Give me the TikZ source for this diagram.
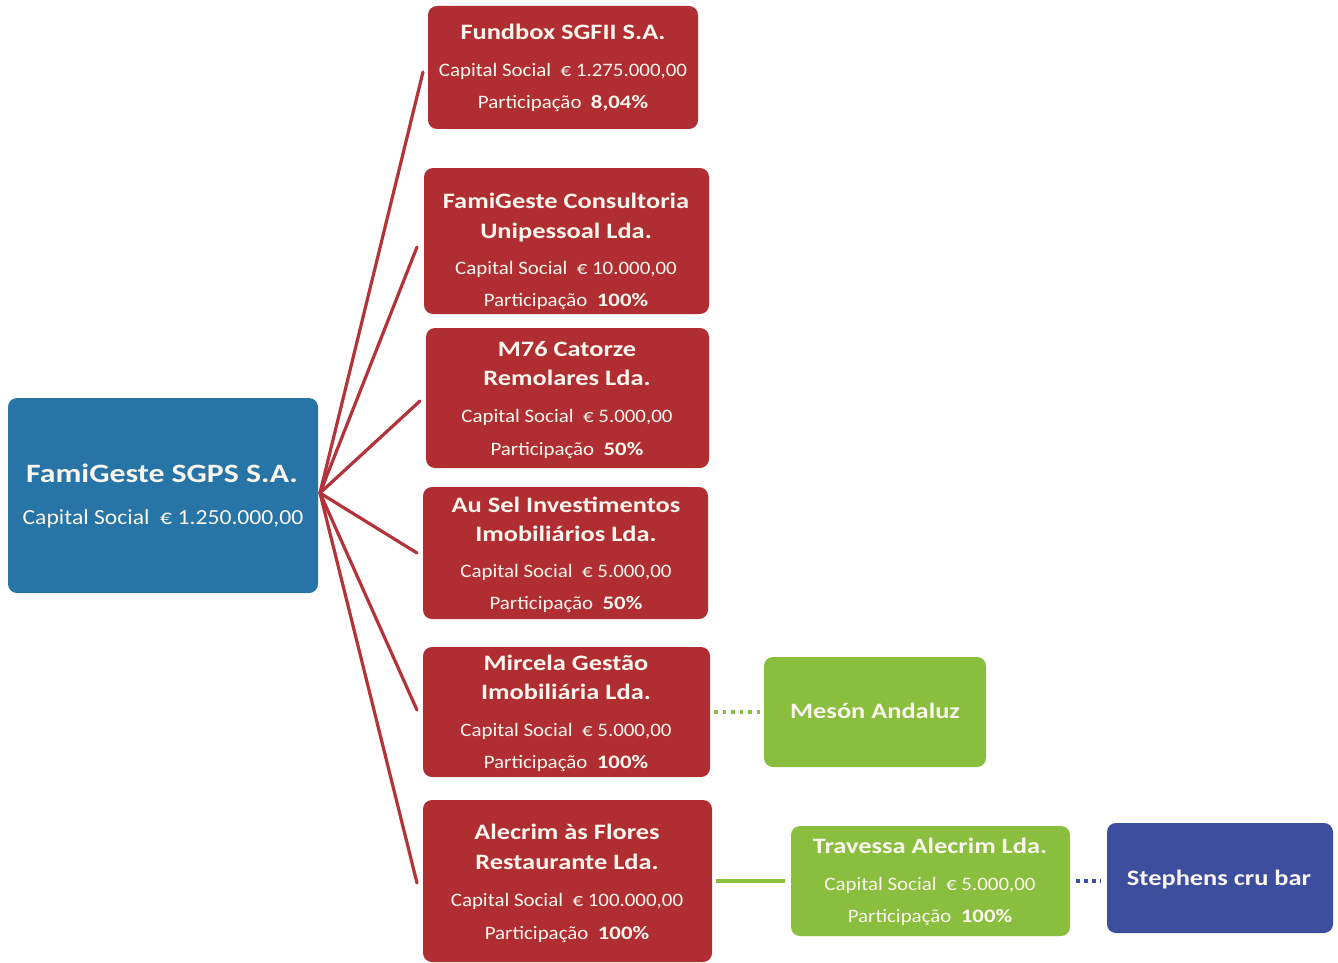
\documentclass[tikz,border=0pt]{standalone}
\usepackage{fontspec}
\setmainfont{Carlito}[FakeStretch=1.1, BoldFeatures={FakeStretch=1.2}]
\definecolor{boxred}{RGB}{176,46,50}
\definecolor{boxblue}{RGB}{38,117,166}
\definecolor{boxgreen}{RGB}{138,190,62}
\definecolor{boxnavy}{RGB}{62,78,158}
\definecolor{linered}{RGB}{178,52,58}
\definecolor{txt}{RGB}{250,246,238}
\tikzset{
  corp/.style={rectangle, rounded corners=9pt, inner sep=0pt, draw=none},
  redbox/.style={corp, fill=boxred},
  bluebox/.style={corp, fill=boxblue},
  greenbox/.style={corp, fill=boxgreen},
  navybox/.style={corp, fill=boxnavy},
  ttl/.style={text=txt, anchor=base, inner sep=0pt, font=\bfseries\fontsize{22}{22}\selectfont},
  capline/.style={text=txt, anchor=base, inner sep=0pt, font=\fontsize{19}{19}\selectfont},
  spoke/.style={draw=linered, line width=3.2pt},
}
\begin{document}
\begin{tikzpicture}[x=1pt,y=-1pt]
\useasboundingbox[fill=white] (0,0) rectangle (1338,963);

% boxes
\node[bluebox, minimum width=310pt, minimum height=195pt] (sgps) at (163,495.5) {};
\node[redbox, minimum width=270pt, minimum height=123pt] (fund) at (563,67.5) {};
\node[redbox, minimum width=285pt, minimum height=146pt] (cons) at (566.5,241) {};
\node[redbox, minimum width=283pt, minimum height=140pt] (m76) at (567.5,398) {};
\node[redbox, minimum width=285pt, minimum height=132pt] (ausel) at (565.5,553) {};
\node[redbox, minimum width=287pt, minimum height=130pt] (mirc) at (566.5,712) {};
\node[redbox, minimum width=289pt, minimum height=162pt] (alec) at (567.5,881) {};
\node[greenbox, minimum width=222pt, minimum height=110pt] (meson) at (875,712) {};
\node[greenbox, minimum width=279pt, minimum height=110pt] (trav) at (930.5,881) {};
\node[navybox, minimum width=226pt, minimum height=110pt] (steph) at (1220,878) {};

% texts
\node[ttl, font=\bfseries\fontsize{26.5}{26.5}\selectfont] (t0a) at (162,482) {FamiGeste SGPS S.A.};
\node[capline, font=\fontsize{21.5}{21.5}\selectfont] (t0b) at (163,524) {Capital Social\ \ € 1.250.000,00};

\node[ttl] (t1a) at (563,40) {Fundbox SGFII S.A.};
\node[capline] (t1b) at (563,77) {Capital Social\ \ € 1.275.000,00};
\node[capline] (t1c) at (563,109) {Participação\ \ \textbf{8,04\%}};

\node[ttl] (t2a) at (566,208) {FamiGeste Consultoria};
\node[ttl] (t2b) at (566,238) {Unipessoal Lda.};
\node[capline] (t2c) at (566,274) {Capital Social\ \ € 10.000,00};
\node[capline] (t2d) at (566,306) {Participação\ \ \textbf{100\%}};

\node[ttl] (t3a) at (567,356) {M76 Catorze};
\node[ttl] (t3b) at (567,385) {Remolares Lda.};
\node[capline] (t3c) at (567,422) {Capital Social\ \ € 5.000,00};
\node[capline] (t3d) at (567,455) {Participação\ \ \textbf{50\%}};

\node[ttl] (t4a) at (566,512) {Au Sel Investimentos};
\node[ttl] (t4b) at (566,541) {Imobiliários Lda.};
\node[capline] (t4c) at (566,577) {Capital Social\ \ € 5.000,00};
\node[capline] (t4d) at (566,609) {Participação\ \ \textbf{50\%}};

\node[ttl] (t5a) at (566,670) {Mircela Gestão};
\node[ttl] (t5b) at (566,699) {Imobiliária Lda.};
\node[capline] (t5c) at (566,736) {Capital Social\ \ € 5.000,00};
\node[capline] (t5d) at (566,768) {Participação\ \ \textbf{100\%}};

\node[ttl] (t6a) at (567,839) {Alecrim às Flores};
\node[ttl] (t6b) at (567,869) {Restaurante Lda.};
\node[capline] (t6c) at (567,906) {Capital Social\ \ € 100.000,00};
\node[capline] (t6d) at (567,939) {Participação\ \ \textbf{100\%}};

\node[ttl] (t7a) at (875,718) {Mesón Andaluz};

\node[ttl] (t8a) at (930,853) {Travessa Alecrim Lda.};
\node[capline] (t8b) at (930,890) {Capital Social\ \ € 5.000,00};
\node[capline] (t8c) at (930,922) {Participação\ \ \textbf{100\%}};

\node[ttl] (t9a) at (1219,885) {Stephens cru bar};

% spoke end points
\coordinate (hub) at (320,493);
\coordinate (e1) at (423,72);
\coordinate (e2) at (417,247);
\coordinate (e3) at (420,401);
\coordinate (e4) at (417,553);
\coordinate (e5) at (417,710);
\coordinate (e6) at (417,883);
\foreach \e in {e1,e2,e3,e4,e5,e6} \draw[spoke, line cap=round] (hub) -- (\e);

% side connectors
\draw[boxgreen, line width=3.5pt, dash pattern=on 3.5pt off 5pt, shorten <=4pt, shorten >=4pt] (mirc.east) -- (meson.west);
\draw[boxgreen, line width=3.5pt, shorten <=4pt, shorten >=6pt] (alec.east) -- (trav.west);
\draw[boxnavy, line width=3.5pt, dash pattern=on 4pt off 4pt, shorten <=6pt, shorten >=6pt] (trav.east) -- (steph.west |- trav.east);
\end{tikzpicture}
\end{document}
